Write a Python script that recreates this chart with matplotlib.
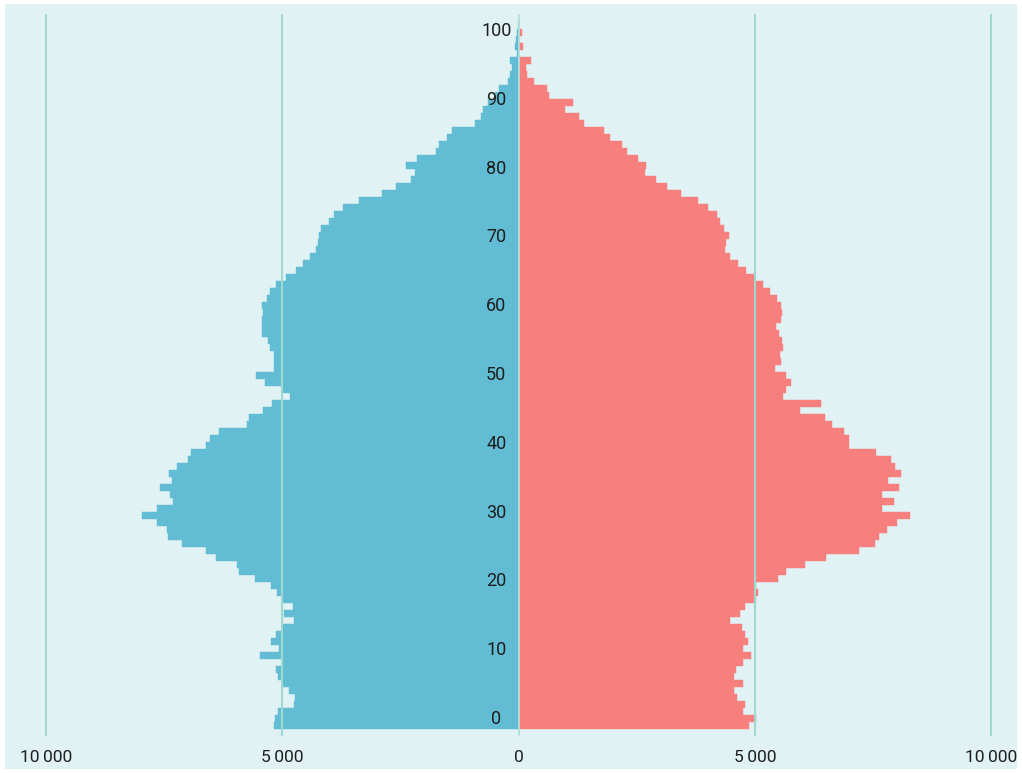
import matplotlib
matplotlib.use("Agg")
import matplotlib.pyplot as plt
from matplotlib.patches import Rectangle
import numpy as np

ages = list(range(0, 101))

male = [5184, 5155, 5099, 4753, 4740, 4858, 5000, 5099, 5134, 5015,
        5480, 5070, 5233, 5127, 4993, 4753, 4958, 4767, 4979, 5120,
        5233, 5586, 5917, 5959, 6403, 6608, 7116, 7412, 7433, 7645,
        7969, 7652, 7313, 7384, 7596, 7334, 7406, 7229, 7004, 6933,
        6615, 6530, 6348, 5755, 5713, 5417, 5226, 4831, 4990, 5366,
        5557, 5184, 5184, 5177, 5261, 5296, 5430, 5430, 5430, 5417,
        5430, 5324, 5254, 5134, 4930, 4711, 4570, 4414, 4287, 4245,
        4217, 4175, 4006, 3906, 3709, 3371, 2893, 2602, 2270, 2186,
        2391, 2143, 1741, 1678, 1515, 1403, 923, 804, 741, 640,
        500, 423, 232, 170, 130, 180, 40, 77, 50, 40,
        10]

female = [4874, 5035, 4747, 4790, 4627, 4570, 4747, 4570, 4612, 4760,
          4916, 4760, 4853, 4802, 4739, 4472, 4690, 4790, 5035, 5071,
          5022, 5488, 5670, 6065, 6516, 7201, 7540, 7637, 7800, 8012,
          8290, 7688, 7942, 7688, 8049, 7829, 8104, 7964, 7879, 7562,
          6997, 6997, 6891, 6644, 6496, 5954, 6405, 5601, 5657, 5776,
          5663, 5430, 5551, 5536, 5607, 5579, 5515, 5452, 5551, 5586,
          5551, 5466, 5318, 5170, 4993, 4823, 4654, 4479, 4379, 4400,
          4451, 4358, 4261, 4198, 4020, 3802, 3436, 3152, 2907, 2680,
          2695, 2539, 2306, 2200, 1946, 1806, 1396, 1290, 988, 1151,
          656, 600, 318, 178, 156, 262, 5, 93, 5, 71,
          0]

age_ticks = [0, 10, 20, 30, 40, 50, 60, 70, 80, 90, 100]
x_ticks = [-10000, -5000, 0, 5000, 10000]
x_tick_labels = ["10\u2009000", "5\u2009000", "0", "5\u2009000", "10\u2009000"]

BG = "#E0F2F4"
BLUE = "#62BDD4"
PINK = "#F7807F"
GRID = "#9ED8CF"
ZERO = "#B4E0DA"
TXT = "#1E1E1E"

plt.rcParams['font.family'] = ['Roboto', 'DejaVu Sans']

W, H = 1022, 773
fig = plt.figure(figsize=(W / 100, H / 100), dpi=100, facecolor="white")
bg = Rectangle((5 / W, 1 - 769 / H), (1017 - 5) / W, (769 - 4) / H,
               transform=fig.transFigure, facecolor=BG,
               edgecolor="none", zorder=-10)
fig.patches.append(bg)

# axes: x -10000..10000 -> px 46..991 ; y px 15..735
ax = fig.add_axes([46 / W, 1 - 735 / H, (991 - 46) / W, 720 / H])
ax.set_zorder(1)
ax.set_facecolor("none")
ax.patch.set_alpha(0)
ax.set_xlim(-10000, 10000)
ax.set_ylim(-0.5 - 6 / 7, -0.5 + (729 - 15) / 7)

ax.barh(ages, [-m for m in male], height=1.0, color=BLUE, edgecolor=BLUE,
        linewidth=0.3, zorder=2)
ax.barh(ages, female, height=1.0, color=PINK, edgecolor=PINK,
        linewidth=0.3, zorder=2)

for xv in x_ticks:
    if xv == 0:
        ax.axvline(xv, color=ZERO, lw=1.3, zorder=3, clip_on=False)
    else:
        ax.axvline(xv, color=GRID, lw=1.5, zorder=3, clip_on=False)

for s in ax.spines.values():
    s.set_visible(False)
ax.set_xticks([])
ax.set_yticks([])

# age labels
for a in age_ticks:
    ax.text(-470, 0.93 + a * 0.9828, str(a), ha="center", va="center",
            fontsize=13, color=TXT, zorder=4)

# x tick labels
trans = ax.get_xaxis_transform()
for xv, lab in zip(x_ticks, x_tick_labels):
    ax.text(xv, -22 / 720, lab, transform=trans, ha="center", va="center",
            fontsize=12.5, color=TXT, zorder=4, clip_on=False)

fig.savefig("out.png", dpi=100, facecolor="white")
